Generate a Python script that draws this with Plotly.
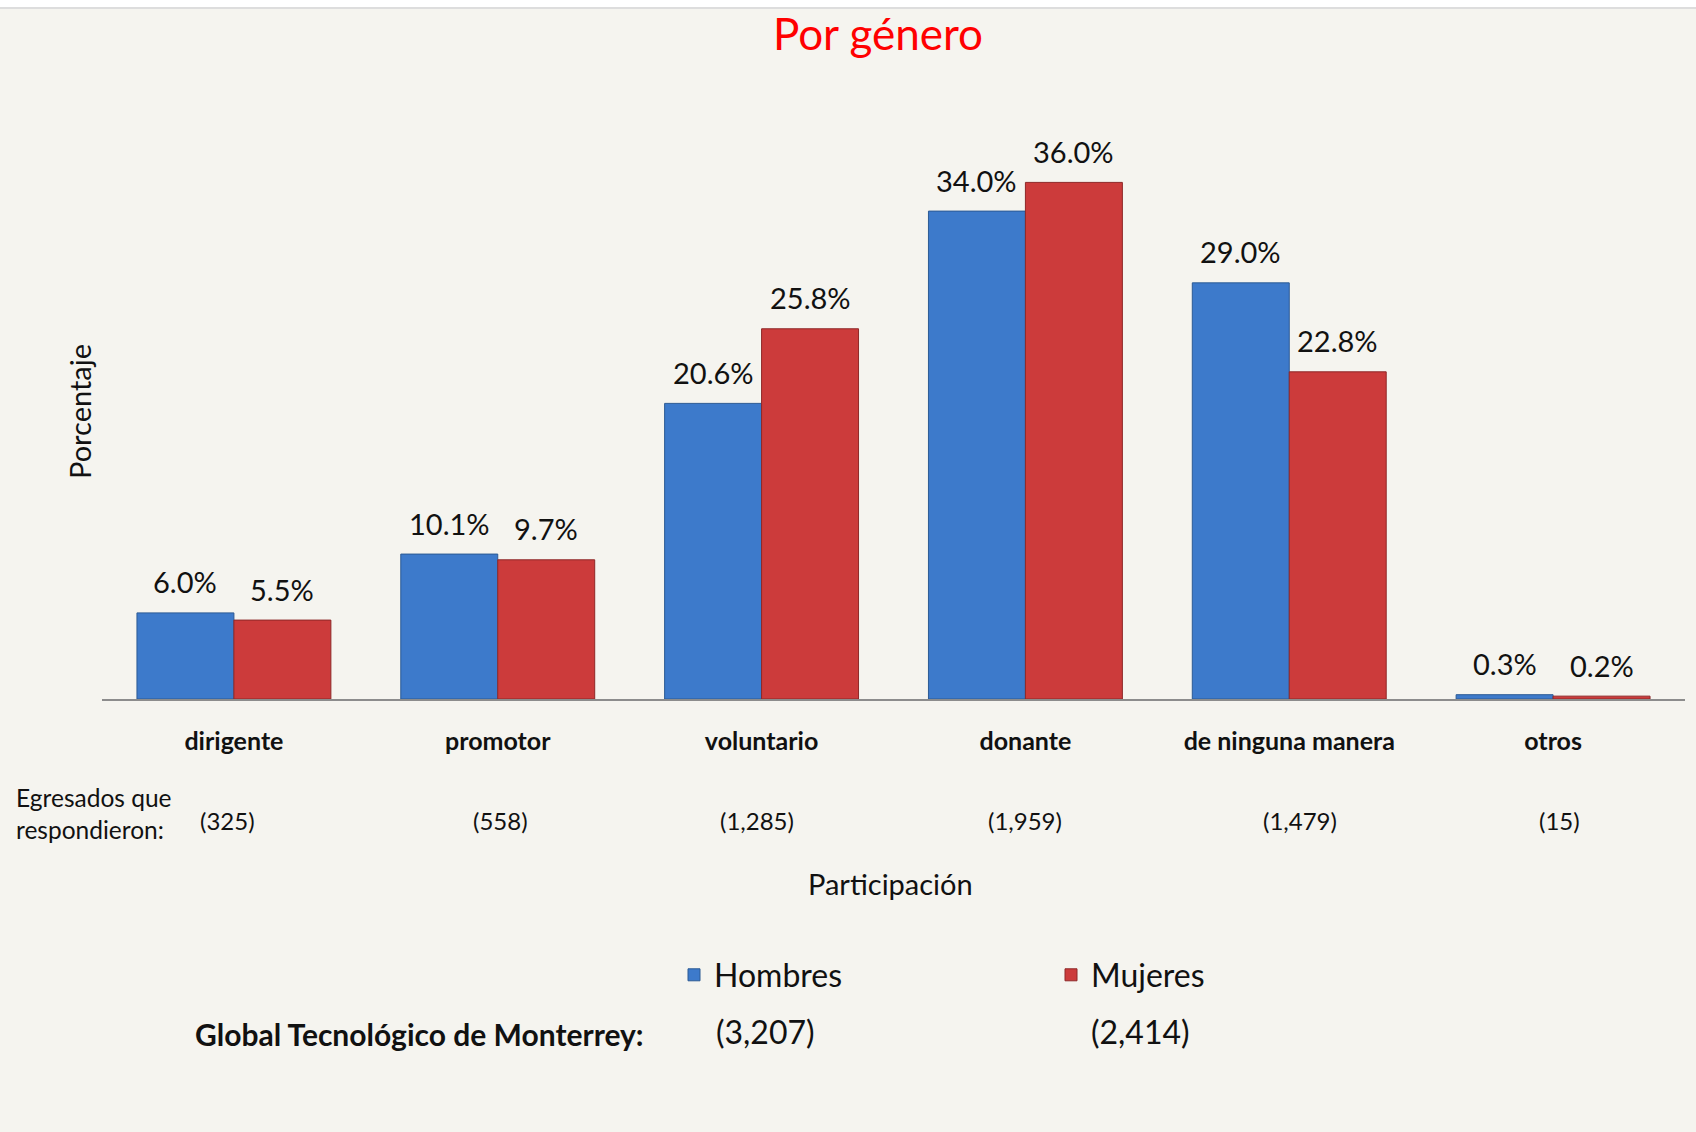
import plotly.graph_objects as go

# Participation categories and survey data
categories = ["dirigente", "promotor", "voluntario", "donante", "de ninguna manera", "otros"]
hombres = [6.0, 10.1, 20.6, 34.0, 29.0, 0.3]
mujeres = [5.5, 9.7, 25.8, 36.0, 22.8, 0.2]
respondents = ["(325)", "(558)", "(1,285)", "(1,959)", "(1,479)", "(15)"]
total_hombres = "(3,207)"
total_mujeres = "(2,414)"

# horizontal nudges (px) of the respondent counts relative to category centers
count_nudge = [-6, 3, -5, 0, 11, 6]

FONT = "Lato"
BG = "#f5f4ef"
BLUE = "#3d7acb"
BLUE_EDGE = "#2c5a94"
RED = "#cc3b3b"
RED_EDGE = "#8e2828"

W, H = 1696, 1132
M_L, M_R, M_T, M_B = 102, 11, 125, 433
BARGAP = 0.265
plot_w = W - M_L - M_R
cat_px = plot_w / len(categories)
half_bar_px = cat_px * (1 - BARGAP) / 4  # center offset of each bar in a pair

fig = go.Figure()
fig.add_trace(go.Bar(
    name="Hombres", x=categories, y=hombres,
    marker=dict(color=BLUE, line=dict(color=BLUE_EDGE, width=1)),
))
fig.add_trace(go.Bar(
    name="Mujeres", x=categories, y=mujeres,
    marker=dict(color=RED, line=dict(color=RED_EDGE, width=1)),
))

annotations = []
# value labels above each bar
for cat, hv, mv in zip(categories, hombres, mujeres):
    for val, shift in ((hv, -half_bar_px), (mv, half_bar_px)):
        annotations.append(dict(
            x=cat, y=val, xref="x", yref="y", text=f"{val:.1f}%",
            showarrow=False, xshift=shift, yshift=31, yanchor="middle",
            font=dict(family=FONT, size=29, color="#111"),
        ))

plot_h = H - M_T - M_B


def py(pixel_y):
    return (H - M_B - pixel_y) / plot_h


def px(pixel_x):
    return (pixel_x - M_L) / plot_w


# respondent counts under each category
for cat, n, nudge in zip(categories, respondents, count_nudge):
    annotations.append(dict(
        x=cat, y=py(820), xref="x", yref="paper", text=n, showarrow=False,
        xshift=nudge, yanchor="middle",
        font=dict(family=FONT, size=24, color="#111"),
    ))

annotations += [
    dict(x=px(14), y=py(813), xref="paper", yref="paper",
         text="Egresados que<br>respondieron:", showarrow=False, align="left",
         xanchor="left", yanchor="middle",
         font=dict(family=FONT, size=24.5, color="#111")),
    dict(x=px(890), y=py(883), xref="paper", yref="paper", text="Participación",
         showarrow=False, yanchor="middle",
         font=dict(family=FONT, size=29, color="#111")),
    dict(x=px(79), y=0.5, xref="paper", yref="paper", text="Porcentaje",
         showarrow=False, textangle=-90, xanchor="center", yanchor="middle",
         font=dict(family=FONT, size=29, color="#111")),
    dict(x=px(646), y=py(1034), xref="paper", yref="paper",
         text="<b>Global Tecnológico de Monterrey:</b>", showarrow=False,
         xanchor="right", yanchor="middle",
         font=dict(family=FONT, size=30, color="#111")),
    dict(x=px(714), y=py(1031), xref="paper", yref="paper", text=total_hombres,
         showarrow=False, xanchor="left", yanchor="middle",
         font=dict(family=FONT, size=32, color="#111")),
    dict(x=px(1089), y=py(1031), xref="paper", yref="paper", text=total_mujeres,
         showarrow=False, xanchor="left", yanchor="middle",
         font=dict(family=FONT, size=32, color="#111")),
]

shapes = [
    # white strip along the top edge
    dict(type="rect", xref="paper", yref="paper", x0=px(0), x1=px(W),
         y0=py(8), y1=py(0), fillcolor="white", line=dict(width=0), layer="below"),
    dict(type="line", xref="paper", yref="paper", x0=px(0), x1=px(W),
         y0=py(8), y1=py(8), line=dict(color="#dddddd", width=2)),
]

fig.update_layout(
    width=W, height=H,
    margin=dict(l=M_L, r=M_R, t=M_T, b=M_B, autoexpand=False),
    paper_bgcolor=BG, plot_bgcolor=BG,
    barmode="group", bargap=BARGAP, bargroupgap=0,
    title=dict(text="Por género", xref="container", x=878 / W, xanchor="center",
               y=1 - 35 / H, yanchor="middle",
               font=dict(family=FONT, size=44, color="#ff0000")),
    font=dict(family=FONT, color="#111"),
    showlegend=True,
    legend=dict(orientation="h", x=px(674), xanchor="left", y=py(975),
                yanchor="middle", entrywidth=332, entrywidthmode="pixels",
                bgcolor="rgba(0,0,0,0)", traceorder="normal",
                font=dict(family=FONT, size=32, color="#111")),
    xaxis=dict(showline=True, linecolor="#8c8c8c", linewidth=2, ticks="",
               showgrid=False, zeroline=False, ticklabelstandoff=19,
               tickfont=dict(family=FONT, size=25, color="#111", weight="bold"),
               fixedrange=True),
    yaxis=dict(range=[0, 40], showticklabels=False, showgrid=False,
               zeroline=False, showline=False, ticks="", fixedrange=True),
    annotations=annotations,
    shapes=shapes,
)

fig.write_html("out.html")
